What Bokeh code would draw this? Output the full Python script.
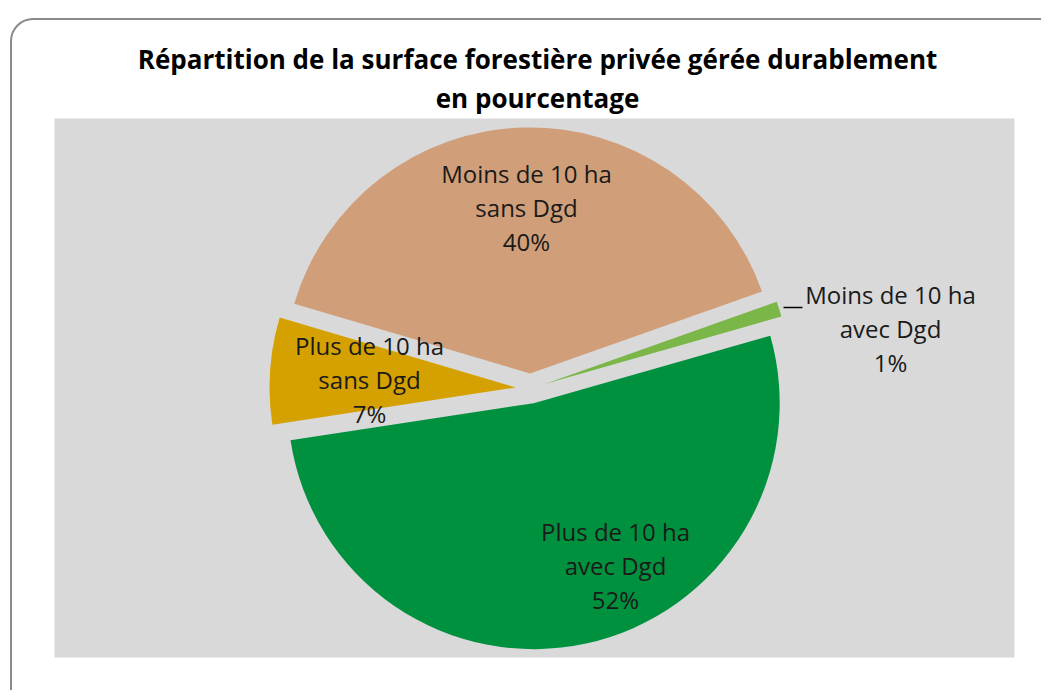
import numpy as np
from bokeh.plotting import figure
from bokeh.models import Range1d, BoxAnnotation, ColumnDataSource, Label
from bokeh.embed import file_html
from bokeh.resources import INLINE
from bokeh.core.properties import value

# ---------------- data ----------------
title_lines = ["Répartition de la surface forestière privée gérée durablement",
               "en pourcentage"]
categories = ["Moins de 10 ha sans Dgd", "Moins de 10 ha avec Dgd",
              "Plus de 10 ha avec Dgd", "Plus de 10 ha sans Dgd"]
label_line1 = ["Moins de 10 ha", "Moins de 10 ha", "Plus de 10 ha", "Plus de 10 ha"]
label_line2 = ["sans Dgd", "avec Dgd", "avec Dgd", "sans Dgd"]
percentages = [40, 1, 52, 7]
colors = ["#d09f79", "#7ab648", "#00913f", "#d4a100"]

# ---------------- layout / style ----------------
W, H = 1041, 690
OX, OY = 0, 0
CX, CY = 530, 388          # pie centre (page px)
R = 246
EXPLODE = 15
START_CW = 286.5           # first slice start, degrees clockwise from 12 o'clock
FONT = "Open Sans"
# label centre of middle line (page px) for each slice
label_xy = [(526, 207), (890, 328), (615, 565), (369, 379)]
LINE_GAP = 34
BORDER = "#8a8a8a"
CR = 22  # card corner radius

p = figure(width=W, height=H, x_range=Range1d(OX, OX + W),
           y_range=Range1d(-(OY + H), -OY), output_backend="svg",
           toolbar_location=None, min_border=0,
           x_axis_location=None, y_axis_location=None)
p.grid.visible = False
p.outline_line_color = None
p.background_fill_color = "white"
p.border_fill_color = "white"

# card border (top edge, left edge, rounded top-left corner)
p.line(x=[10.5 + CR, W], y=[-18.5, -18.5], line_color=BORDER, line_width=2)
p.line(x=[10.5, 10.5], y=[-(18.5 + CR), -H], line_color=BORDER, line_width=2)
p.arc(x=10.5 + CR, y=-(18.5 + CR), radius=CR, start_angle=np.pi / 2,
      end_angle=np.pi, line_color=BORDER, line_width=2)

# plot area
p.add_layout(BoxAnnotation(left=54, right=1014, top=-118, bottom=-657,
                           fill_color="#d9d9d9", fill_alpha=1, line_color=None,
                           level="underlay"))

# pie wedges
vals = np.array(percentages, dtype=float)
frac = vals / vals.sum()
cum = np.cumsum(frac)
start_cw = START_CW + 360 * (cum - frac)
end_cw = START_CW + 360 * cum
mid = np.radians((start_cw + end_cw) / 2)
xs = CX + EXPLODE * np.sin(mid)
ys = -(CY - EXPLODE * np.cos(mid))
src = ColumnDataSource(dict(
    x=xs, y=ys,
    start=np.radians(90 - start_cw), end=np.radians(90 - end_cw),
    color=colors, cat=categories))
p.wedge(x="x", y="y", radius=R, start_angle="start", end_angle="end",
        direction="clock", fill_color="color", line_color=None, source=src)

# labels
tx, ty, tt = [], [], []
for (lx, ly), l1, l2, pc in zip(label_xy, label_line1, label_line2, percentages):
    for k, t in enumerate([l1, l2, f"{pc}%"]):
        tx.append(lx)
        ty.append(-(ly + (k - 1) * LINE_GAP))
        tt.append(t)
p.text(x=tx, y=ty, text=tt, text_align="center", text_baseline="middle",
       text_font=value(FONT), text_font_size="24px", text_color="#1a1a1a")

# leader line for the 1% slice
p.line(x=[783, 802], y=[-307, -307], line_color="black", line_width=1.5)

# title
for i, t in enumerate(title_lines):
    p.add_layout(Label(x=537, y=-(58 + 39 * i), text=t, text_align="center",
                       text_baseline="middle", text_font=FONT,
                       text_font_style="bold", text_font_size="26px",
                       text_color="black"))

open("out.html", "w").write(file_html(p, INLINE))
